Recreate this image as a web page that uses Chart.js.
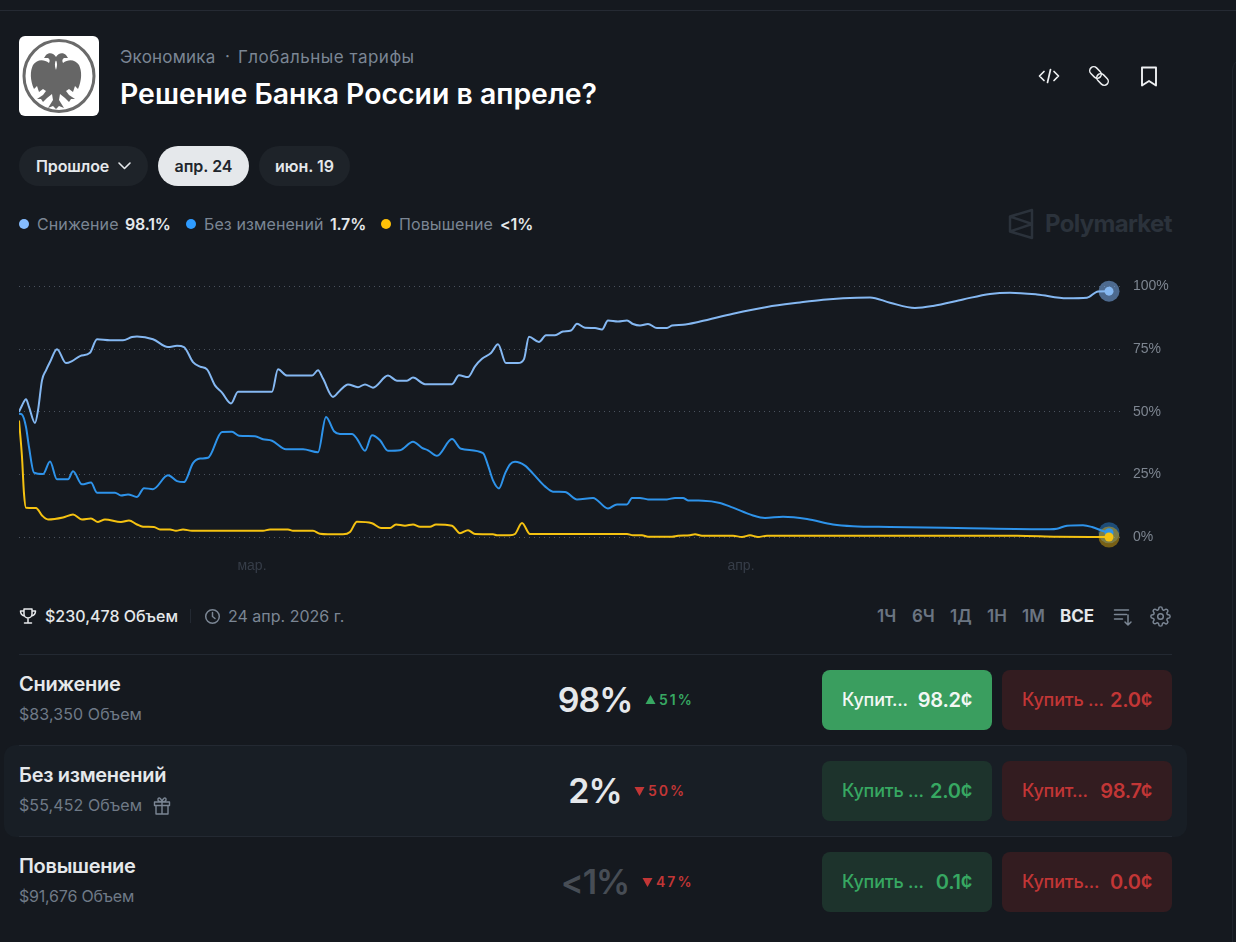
<!DOCTYPE html>
<html lang="ru">
<head>
<meta charset="UTF-8">
<title>Решение Банка России в апреле?</title>
<script src="https://cdn.jsdelivr.net/npm/chart.js"></script>
<style>
  html, body { margin: 0; padding: 0; background: #15191f; overflow: hidden; }
  body { width: 1236px; height: 942px; position: relative; font-family: Inter, "Noto Sans", sans-serif; color: #e5e8eb; }
  .abs { position: absolute; white-space: nowrap; line-height: 1; }
  .mid { transform: translateY(-50%); }
  .gray { color: #7b8694; }
  .pill { position: absolute; top: 146px; height: 40px; border-radius: 20px; background: #1e2329; font-size: 16px; font-weight: 600; line-height: 40px; text-align: center; }
  .sep { position: absolute; left: 19px; width: 1153px; height: 1px; background: #232932; }
  .rowname { font-size: 20px; font-weight: 600; letter-spacing: -0.3px; }
  .rowvol { font-size: 16px; color: #6f7a87; letter-spacing: 0.1px; }
  .pct { font-size: 34px; font-weight: 600; width: 120px; text-align: center; left: 535px; letter-spacing: -1px; }
  .chg { font-size: 14px; font-weight: 600; letter-spacing: 2px; }
  .btn { position: absolute; width: 170px; height: 60px; border-radius: 8px; }
  .btn span { position: absolute; top: 30px; transform: translateY(-50%); line-height: 1; white-space: nowrap; }
  .btn .lb { left: 20px; font-size: 18px; font-weight: 500; letter-spacing: -0.2px; }
  .btn .pr { right: 20px; font-size: 20px; font-weight: 600; letter-spacing: -0.3px; }
  .g { background: #1d332c; color: #37a862; }
  .r { background: #331c20; color: #c23636; }
  .range { font-size: 17px; font-weight: 600; color: #6b7582; top: 608px; }
  .legendtxt { font-size: 16px; letter-spacing: 0.1px; top: 224px; }
  .legendval { font-size: 16px; font-weight: 600; letter-spacing: -0.2px; top: 224px; }
  #wrap { position: absolute; left: 19px; top: 265px; width: 1172px; height: 312px; }
  svg { position: absolute; }
</style>
</head>
<body>

<div style="position:absolute;left:0;top:10px;width:1236px;height:1px;background:#252a33"></div>
<div style="position:absolute;left:1232px;top:58px;width:20px;height:900px;border:1px solid #1f242c;border-radius:12px 0 0 0"></div>

<!-- logo -->
<svg style="left:19px;top:36px" width="80" height="80" viewBox="0 0 80 80">
  <rect width="80" height="80" rx="6" fill="#fff"/>
  <ellipse cx="40" cy="40" rx="35" ry="35.500" fill="none" stroke="#6a6a6a" stroke-width="3"/>
  <path fill="#666" d="M37 34c-2-6-1-10 2-11l-2-2c-2-4-7-5-10-2l-2 3 4 0c2 1 2 3 1 5-5-4-12-4-16 2-3 6-3 15 1 24l3-3 2 6 4-3 3 2-3 4-6 4 4 0 2 3 4-4 5-4 1 6-5 8 5-2 3 3 3-3 5 2-5-8 1-6 5 4 4 4 2-3 4 0-6-4-3-4 3-2 4 3 2-6 3 3c4-9 4-18 1-24-4-6-11-6-16-2-1-2-1-4 1-5l4 0-2-3c-3-3-8-2-10 2l-2 2c3 1 4 5 2 11l-3 2z"/>
</svg>

<div class="abs mid gray" style="left:120px;top:57px;font-size:17px;letter-spacing:0.2px">Экономика</div>
<div class="abs mid gray" style="left:225px;top:56px;font-size:17px">·</div>
<div class="abs mid gray" style="left:238px;top:57px;font-size:17px;letter-spacing:0.5px">Глобальные тарифы</div>
<div class="abs mid" style="left:120px;top:94px;font-size:28.400px;font-weight:600;color:#fff">Решение Банка России в апреле?</div>

<!-- header icons -->
<svg style="left:1037px;top:64px" width="24" height="24" fill="none" stroke="#eef0f2" stroke-width="1.700" stroke-linecap="round" stroke-linejoin="round"><path d="M7 7.500 2.500 12 7 16.500M17 7.500l4.500 4.500-4.500 4.500M13.500 5.500l-3 13"/></svg>
<svg style="left:1087px;top:64px" width="24" height="24" fill="none" stroke="#eef0f2" stroke-width="1.500"><rect x="2" y="4.500" width="13" height="8" rx="4" transform="rotate(45 8.500 8.500)"/><rect x="9" y="11.500" width="13" height="8" rx="4" transform="rotate(45 15.500 15.500)"/></svg>
<svg style="left:1137px;top:64px" width="24" height="24" fill="none" stroke="#eef0f2" stroke-width="1.900" stroke-linejoin="round"><path d="M5 3.500h14v18l-7-4.500-7 4.500z"/></svg>

<!-- pills -->
<div class="pill" style="left:19px;width:129px">
  <span style="position:absolute;left:17px;letter-spacing:-0.1px">Прошлое</span>
  <svg style="left:98px;top:14px" width="15" height="12" fill="none" stroke="#e5e8eb" stroke-width="1.600" stroke-linecap="round" stroke-linejoin="round"><path d="M2 3l5.500 5.500L13 3"/></svg>
</div>
<div class="pill" style="left:158px;width:91px;background:#e5e8eb;color:#20252b">апр. 24</div>
<div class="pill" style="left:259px;width:91px">июн. 19</div>

<!-- legend -->
<div style="position:absolute;left:19px;top:219px;width:10px;height:10px;border-radius:50%;background:#85bcff"></div>
<div class="abs mid gray legendtxt" style="left:37px">Снижение</div>
<div class="abs mid legendval" style="left:125px">98.1%</div>
<div style="position:absolute;left:186px;top:219px;width:10px;height:10px;border-radius:50%;background:#2e9bff"></div>
<div class="abs mid gray legendtxt" style="left:204px">Без изменений</div>
<div class="abs mid legendval" style="left:330px">1.7%</div>
<div style="position:absolute;left:381px;top:219px;width:10px;height:10px;border-radius:50%;background:#ffc107"></div>
<div class="abs mid gray legendtxt" style="left:399px">Повышение</div>
<div class="abs mid legendval" style="left:500px">&lt;1%</div>

<!-- watermark -->
<svg style="left:1008px;top:208px" width="26" height="32" fill="none" stroke="#2b323b" stroke-width="2.500" stroke-linejoin="round"><path d="M24 2 2 8.500v15L24 30zM2 8.500 24 16 2 23.500"/></svg>
<div class="abs mid" style="left:1045px;top:224px;font-size:24px;font-weight:700;color:#2b323b;letter-spacing:-0.7px">Polymarket</div>

<div id="wrap"><canvas id="priceChart"></canvas></div>

<!-- volume line -->
<svg style="left:19px;top:607px" width="18" height="18" fill="none" stroke="#e8eaed" stroke-width="1.500" stroke-linecap="round" stroke-linejoin="round"><path d="M5 2h8v5a4 4 0 0 1-8 0zM5 4H1.500c0 3 1.500 4.500 4 5M13 4h3.500c0 3-1.500 4.500-4 5M9 11v4M5.500 16h7"/></svg>
<div class="abs mid" style="left:45px;top:616px;font-size:16px;font-weight:500;letter-spacing:0">$230,478 Объем</div>
<div style="position:absolute;left:190px;top:609px;width:1px;height:14px;background:#232932"></div>
<svg style="left:204px;top:608px" width="17" height="17" fill="none" stroke="#7b8694" stroke-width="1.500" stroke-linecap="round"><circle cx="8.500" cy="8.500" r="6.800"/><path d="M8.500 4.500v4l2.500 2"/></svg>
<div class="abs mid gray" style="left:228px;top:616px;font-size:16px">24 апр. 2026 г.</div>

<div class="abs range" style="left:877px">1Ч</div>
<div class="abs range" style="left:912px">6Ч</div>
<div class="abs range" style="left:950px">1Д</div>
<div class="abs range" style="left:987px">1Н</div>
<div class="abs range" style="left:1022px">1М</div>
<div class="abs range" style="left:1060px;color:#e5e8eb;font-weight:700">ВСЕ</div>
<svg style="left:1113px;top:607px" width="20" height="20" fill="none" stroke="#7b8694" stroke-width="1.500" stroke-linecap="round" stroke-linejoin="round"><path d="M1.500 3h14M1.500 7.500h12M1.500 12h8M15 8v10M12 15l3 3 3-3"/></svg>
<svg style="left:1150px;top:606px" width="21" height="21" viewBox="0 0 24 24" fill="none" stroke="#7b8694" stroke-width="1.700" stroke-linejoin="round"><circle cx="12" cy="12" r="3.200"/><path d="M19.400 15a1.700 1.700 0 0 0 .3 1.800l.1.100a2 2 0 1 1-2.900 2.900l-.1-.1a1.700 1.700 0 0 0-2.800 1.200V21a2 2 0 0 1-4 0v-.1a1.700 1.700 0 0 0-2.800-1.200l-.1.100a2 2 0 1 1-2.900-2.900l.1-.1a1.700 1.700 0 0 0-1.200-2.800H3a2 2 0 0 1 0-4h.1a1.700 1.700 0 0 0 1.200-2.800l-.1-.1a2 2 0 1 1 2.900-2.900l.1.100a1.700 1.700 0 0 0 2.800-1.200V3a2 2 0 0 1 4 0v.1a1.700 1.700 0 0 0 2.800 1.200l.1-.1a2 2 0 1 1 2.900 2.900l-.1.100a1.700 1.700 0 0 0 1.200 2.800h.1a2 2 0 0 1 0 4h-.1a1.700 1.700 0 0 0-1.500 1z"/></svg>

<!-- rows -->
<div style="position:absolute;left:4px;top:745px;width:1183px;height:92px;border-radius:12px;background:#181e25"></div>
<div class="sep" style="top:654px"></div>
<div class="sep" style="top:745px"></div>
<div class="sep" style="top:836px"></div>

<div class="abs mid rowname" style="left:19px;top:684px">Снижение</div>
<div class="abs mid rowvol" style="left:19px;top:714px">$83,350 Объем</div>
<div class="abs mid pct" style="top:700px">98%</div>
<svg style="left:645px;top:695px" width="11" height="10"><path d="M5.500 0 10.500 9H.5z" fill="#37a862"/></svg>
<div class="abs mid chg" style="left:659px;top:700px;color:#37a862">51%</div>
<div class="btn" style="left:822px;top:670px;background:#3a9e5f;color:#f2f7f4"><span class="lb">Купит...</span><span class="pr">98.2¢</span></div>
<div class="btn r" style="left:1002px;top:670px"><span class="lb">Купить ...</span><span class="pr">2.0¢</span></div>

<div class="abs mid rowname" style="left:19px;top:775px">Без изменений</div>
<div class="abs mid rowvol" style="left:19px;top:805px">$55,452 Объем</div>
<svg style="left:153px;top:796px" width="18" height="19" fill="none" stroke="#7b8694" stroke-width="1.400" stroke-linejoin="round"><path d="M1.500 6h15v3.500h-15zM3 9.500h12V18H3zM9 6v12M9 6C6 6 4.500 4.800 5 3s3-1.500 4 3c1-4.500 3.500-4.800 4-3S12 6 9 6z"/></svg>
<div class="abs mid pct" style="top:791px">2%</div>
<svg style="left:634px;top:786px" width="11" height="10"><path d="M.5 1h10L5.500 10z" fill="#c23636"/></svg>
<div class="abs mid chg" style="left:648px;top:791px;color:#c23636">50%</div>
<div class="btn g" style="left:822px;top:761px"><span class="lb">Купить ...</span><span class="pr">2.0¢</span></div>
<div class="btn r" style="left:1002px;top:761px"><span class="lb">Купит...</span><span class="pr">98.7¢</span></div>

<div class="abs mid rowname" style="left:19px;top:866px">Повышение</div>
<div class="abs mid rowvol" style="left:19px;top:896px;letter-spacing:-0.2px">$91,676 Объем</div>
<div class="abs mid pct" style="top:882px;color:#474d55">&lt;1%</div>
<svg style="left:642px;top:877px" width="11" height="10"><path d="M.5 1h10L5.500 10z" fill="#c23636"/></svg>
<div class="abs mid chg" style="left:656px;top:882px;color:#c23636">47%</div>
<div class="btn g" style="left:822px;top:852px"><span class="lb">Купить ...</span><span class="pr">0.1¢</span></div>
<div class="btn r" style="left:1002px;top:852px"><span class="lb">Купить...</span><span class="pr">0.0¢</span></div>

<script>
// time axis: sample number on a regular grid, first trade = 0
const monthTicks = [233, 722];
const monthLabels = ['мар.', 'апр.'];
const yTicks = [0, 25, 50, 75, 100];

// Снижение
const downT = [0,3,7,10,16,19,23,27,31,38,47,53,61,71,78,91,104,113,118,134,149,158,165,174,181,188,196,203,212,219,253,259,268,293,299,304,314,321,329,339,346,354,369,378,388,394,406,433,440,449,456,463,472,479,487,499,505,510,520,527,536,544,552,558,566,576,583,589,599,608,614,621,629,638,648,653,664,681,714,748,781,804,824,851,871,896,914,944,971,991,1018,1048,1068,1079,1090];
const downV = [49.9,52.5,55,51.9,45.5,50.5,62.5,66.5,69.8,74.9,69.4,70.2,72.2,73.5,78.9,78.5,78.5,79.8,80,78.9,75.8,76.3,75.8,69.8,68,66.9,60.5,57.6,53.3,58,58,66.9,64.4,64.4,66.5,63.2,55.9,58.5,60.9,59.8,60.9,59.6,64.4,62.4,62.4,63.6,61,61,64.5,63.8,68.1,71.1,73.4,76.9,69.4,69.4,71,79.9,77.8,80.5,80.5,82,82.4,85.1,83.5,83.4,82.8,86.4,86,86.4,85,84.4,85,83.4,83.4,84.4,84.7,86,89.1,91.8,93.6,94.7,95.3,95.6,93.5,91.4,92.2,94.8,97,97.5,96.8,95.3,95.5,98,98.1];

// Без изменений
const flatT = [0,3,7,10,15,24,31,38,49,54,63,72,78,96,102,109,118,125,134,149,158,165,174,181,189,203,213,220,236,244,253,267,284,299,307,315,321,333,338,346,353,361,369,381,394,403,409,418,433,442,464,469,474,480,486,491,496,506,514,526,534,546,558,574,589,598,608,613,621,629,648,656,664,669,684,701,714,734,746,764,788,814,834,871,938,1031,1038,1048,1064,1073,1083,1090];
const flatV = [49.2,48.9,43.9,35.9,25.7,25.1,30.1,23,23,26.2,21,21.7,17.7,17.7,16.6,17,16,19.5,19.1,24.6,22.3,21.9,29.5,31.3,31.6,41.9,42,40.4,40.2,39,38.4,35,35,33.8,47.9,42.2,41.1,41.1,39.2,34.4,40.6,38.6,34.4,34.6,38,35.6,34.6,32.4,39.1,35.2,33.5,28.6,22.6,19.4,25.3,29,30,28.5,25.3,20.2,18.1,18,15,15.6,11.4,13,13,15.6,15.6,15,15,15.6,15.6,14.6,14.5,13.6,11.7,8.6,7.6,8.1,7.2,5,4.3,4,3.6,3.1,3.3,4.5,4.7,4,2.5,1.7];

// Повышение
const upT = [0,3,5,7,17,23,29,44,54,63,72,79,86,102,110,118,124,135,141,151,157,164,173,244,251,269,274,294,301,309,324,331,338,353,362,371,377,386,394,401,411,417,433,441,449,456,474,478,491,496,503,511,608,614,623,629,653,659,671,676,683,714,723,731,739,748,781,998,1038,1090];
const upV = [46.5,31.9,17.3,11.7,11.6,8.6,7,7.8,9,7,7.4,6,7,6,6.6,5,4.1,4,3,3,2.5,3,2.5,2.5,3,3,2.5,2.5,1.3,1.1,1.1,2,6.1,5.5,3.6,3.6,5,4.5,5,4.1,4.1,5,4.5,1.5,2.7,1.2,1.1,.7,.7,1.2,5.6,1.2,1.2,.7,.7,.1,.1,.5,.7,1.1,.5,.5,0,.7,0,.5,.5,.5,.1,0];

function toPoints(ts, vs) {
  return ts.map((t, i) => ({ x: t, y: vs[i] }));
}

function lineSet(name, ts, vs, color, width) {
  const last = ts.length - 1;
  return {
    label: name,
    data: toPoints(ts, vs),
    borderColor: color,
    backgroundColor: color,
    borderWidth: width,
    cubicInterpolationMode: 'monotone',
    clip: false,
    pointRadius: ctx => ctx.dataIndex === last ? 4.5 : 0,
    pointBorderWidth: 0
  };
}

function haloSet(ts, vs, color) {
  return {
    data: toPoints(ts.slice(-1), vs.slice(-1)),
    showLine: false,
    clip: false,
    pointRadius: 10.5,
    pointBorderWidth: 0,
    backgroundColor: color
  };
}

new Chart(document.getElementById('priceChart'), {
  type: 'line',
  data: {
    datasets: [
      lineSet('Повышение', upT, upV, '#f5c211', 2),
      lineSet('Без изменений', flatT, flatV, '#2e93ea', 2),
      lineSet('Снижение', downT, downV, '#85b8f2', 2),
      haloSet(upT, upV, 'rgba(255,193,7,.42)'),
      haloSet(flatT, flatV, 'rgba(46,155,255,.4)'),
      haloSet(downT, downV, 'rgba(133,188,255,.5)')
    ]
  },
  options: {
    responsive: true,
    maintainAspectRatio: false,
    animation: false,
    events: [],
    layout: { autoPadding: false },
    plugins: { legend: { display: false }, tooltip: { enabled: false } },
    scales: {
      x: {
        type: 'linear',
        min: 0,
        max: 1101,
        grid: { display: false },
        border: { display: false },
        afterBuildTicks: s => { s.ticks = monthTicks.map(v => ({ value: v })); },
        afterFit: s => { s.height = 40; },
        ticks: {
          autoSkip: false,
          maxRotation: 0,
          padding: 13,
          color: '#363d48',
          font: { family: '"Liberation Sans"', size: 14 },
          callback: v => monthLabels[monthTicks.indexOf(v)]
        }
      },
      y: {
        position: 'right',
        min: 0,
        max: 100,
        grid: { color: '#4a525e', lineWidth: 1, drawTicks: false },
        border: { display: false, dash: [1, 4] },
        afterBuildTicks: s => { s.ticks = yTicks.map(v => ({ value: v })); },
        afterFit: s => { s.width = 71; },
        ticks: {
          padding: 13,
          color: '#7d8590',
          font: { family: '"Liberation Sans"', size: 14 },
          callback: v => v + '%'
        }
      }
    }
  }
});
</script>
</body>
</html>
